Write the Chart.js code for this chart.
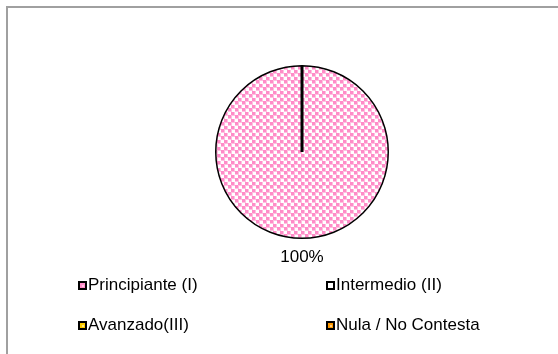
<!DOCTYPE html>
<html>
<head>
<meta charset="utf-8">
<script src="https://cdn.jsdelivr.net/npm/chart.js@4"></script>
<style>
    body { margin: 0; background: #fff; }
    #wrap { position: absolute; left: 0; top: 0; width: 558px; height: 354px; }
    #frame { position: absolute; left: 6px; top: 6px; width: 560px; height: 360px;
             border-top: 2px solid #a0a0a0; border-left: 2px solid #a0a0a0; }
</style>
</head>
<body>
<div id="wrap">
    <div id="frame"></div>
    <canvas id="chart" width="558" height="354"></canvas>
</div>
<script>
// chart data
const categories = ["Principiante (I)", "Intermedio (II)", "Avanzado(III)", "Nula / No Contesta"];
const values = [100, 0, 0, 0];
const dotColors = ["#ff8cc8", null, "#ffcc00", "#ff9900"];
const haloColors = ["#ffc0e0", null, "#ffe680", "#ffcc80"];

// dotted fill like the spreadsheet pattern
function makePattern(i) {
    if (!dotColors[i]) return "#ffffff";
    let tile = document.createElement("canvas");
    tile.width = 7;
    tile.height = 7;
    let c = tile.getContext("2d");
    c.fillStyle = "#ffffff";
    c.fillRect(0, 0, 7, 7);
    [[0, 0], [4, 3]].forEach(([x, y]) => {
        c.fillStyle = haloColors[i];
        c.fillRect(x, y, 4, 4);
        c.fillStyle = dotColors[i];
        c.fillRect(x, y, 3, 3);
    });
    // wrap the second dot over the right edge
    c.fillStyle = haloColors[i];
    c.fillRect(0, 3, 1, 4);
    return document.createElement("canvas").getContext("2d").createPattern(tile, "repeat");
}

let fills = categories.map((n, i) => makePattern(i));

// draws the zero slice edge, the percent label and the legend grid
const extras = {
    id: "extras",
    afterDraw(chart) {
        let ctx = chart.ctx;
        let arcs = chart.getDatasetMeta(0).data;
        let first = arcs[0];
        let edge = arcs[1];

        ctx.save();
        ctx.strokeStyle = "#000";
        ctx.lineWidth = 3;
        ctx.beginPath();
        ctx.moveTo(edge.x, edge.y);
        ctx.lineTo(edge.x + Math.cos(edge.startAngle) * edge.outerRadius,
                   edge.y + Math.sin(edge.startAngle) * edge.outerRadius);
        ctx.stroke();

        let total = values.reduce((a, b) => a + b, 0);
        ctx.fillStyle = "#000";
        ctx.font = "17px 'Liberation Sans', Arial, sans-serif";
        ctx.textAlign = "center";
        ctx.textBaseline = "middle";
        ctx.fillText(Math.round(values[0] / total * 100) + "%", first.x, first.y + first.outerRadius + 19);

        // legend, two columns
        ctx.textAlign = "left";
        let cols = [78, 326];
        let rows = [285, 325];
        categories.forEach((name, i) => {
            let bx = cols[i % 2];
            let by = rows[Math.floor(i / 2)];
            ctx.fillStyle = "#000";
            ctx.fillRect(bx, by - 4, 9, 9);
            ctx.fillStyle = "#fff";
            ctx.fillRect(bx + 2, by - 2, 5, 5);
            if (dotColors[i]) {
                ctx.fillStyle = dotColors[i];
                ctx.fillRect(bx + 2, by - 2, 5, 5);
                ctx.fillStyle = haloColors[i];
                ctx.fillRect(bx + 4, by, 2, 2);
            }
            ctx.fillStyle = "#000";
            ctx.fillText(name, bx + 10, by);
        });
        ctx.restore();
    }
};

new Chart(document.getElementById("chart"), {
    type: "pie",
    data: {
        labels: categories,
        datasets: [{
            data: values,
            backgroundColor: fills,
            borderColor: "#000",
            borderWidth: 1.5
        }]
    },
    options: {
        responsive: false,
        animation: false,
        layout: { padding: { top: 65, bottom: 115, left: 200, right: 154 } },
        plugins: {
            legend: { display: false },
            tooltip: { enabled: false }
        }
    },
    plugins: [extras]
});
</script>
</body>
</html>
